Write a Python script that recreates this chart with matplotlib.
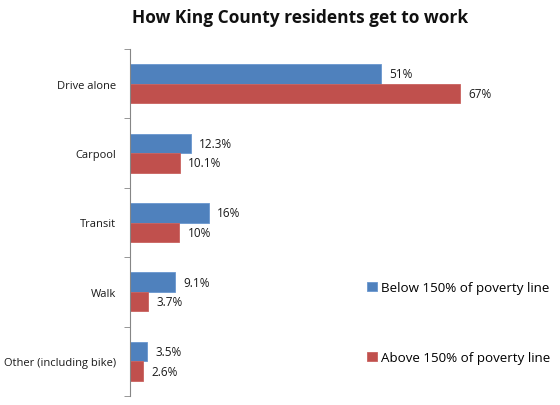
import matplotlib
matplotlib.use("Agg")
import matplotlib.pyplot as plt
import numpy as np

categories = ["Drive alone", "Carpool", "Transit", "Walk", "Other (including bike)"]
below = [51, 12.3, 16, 9.1, 3.5]
above = [67, 10.1, 10, 3.7, 2.6]
below_labels = ["51%", "12.3%", "16%", "9.1%", "3.5%"]
above_labels = ["67%", "10.1%", "10%", "3.7%", "2.6%"]
series_names = ["Below 150% of poverty line", "Above 150% of poverty line"]

plt.rcParams['font.family'] = ['Open Sans', 'DejaVu Sans']

fig = plt.figure(figsize=(5.6, 4.06), dpi=100)
ax = fig.add_axes([130/560, 1-397/406, 344.4/560, 347/406])

y = np.arange(len(categories))
h = 0.28
blue = "#4F81BD"
red = "#C0504D"
b1 = ax.barh(y - h/2, below, height=h, color=blue, edgecolor="#6A97CF", linewidth=0.6, label=series_names[0])
b2 = ax.barh(y + h/2, above, height=h, color=red, edgecolor="#C9625F", linewidth=0.6, label=series_names[1])

for yi, v, t in zip(y - h/2, below, below_labels):
    ax.annotate(t, (v, yi), xytext=(6, 0), textcoords="offset points", va="center", ha="left", fontsize=8.5, color="#1a1a1a")
for yi, v, t in zip(y + h/2, above, above_labels):
    ax.annotate(t, (v, yi), xytext=(6, 0), textcoords="offset points", va="center", ha="left", fontsize=8.5, color="#1a1a1a")

ax.set_xlim(0, 70)
ax.set_ylim(len(categories) - 0.5, -0.5)
ax.set_yticks(y)
ax.set_yticklabels(categories, fontsize=8, color="#1a1a1a")
ax.tick_params(axis="y", which="major", length=0, pad=10)
ax.set_yticks(np.arange(-0.5, len(categories) + 0.5, 1), minor=True)
ax.tick_params(axis="y", which="minor", length=4, color="#868686", direction="out")
ax.set_xticks([])
for s in ["top", "right", "bottom"]:
    ax.spines[s].set_visible(False)
ax.spines["left"].set_color("#868686")

fig.text(300/560, 1-18/406, "How King County residents get to work", ha="center", va="center", fontsize=12.5, fontweight="bold", color="#111111")

leg = fig.legend(handles=[b1, b2], loc="upper left", bbox_to_anchor=(362/560, 1-277/406), frameon=False,
                 fontsize=9.6, handlelength=0.7, handleheight=0.7, handletextpad=0.3, labelspacing=4.25, borderaxespad=0)

fig.savefig("out.png", dpi=100)
